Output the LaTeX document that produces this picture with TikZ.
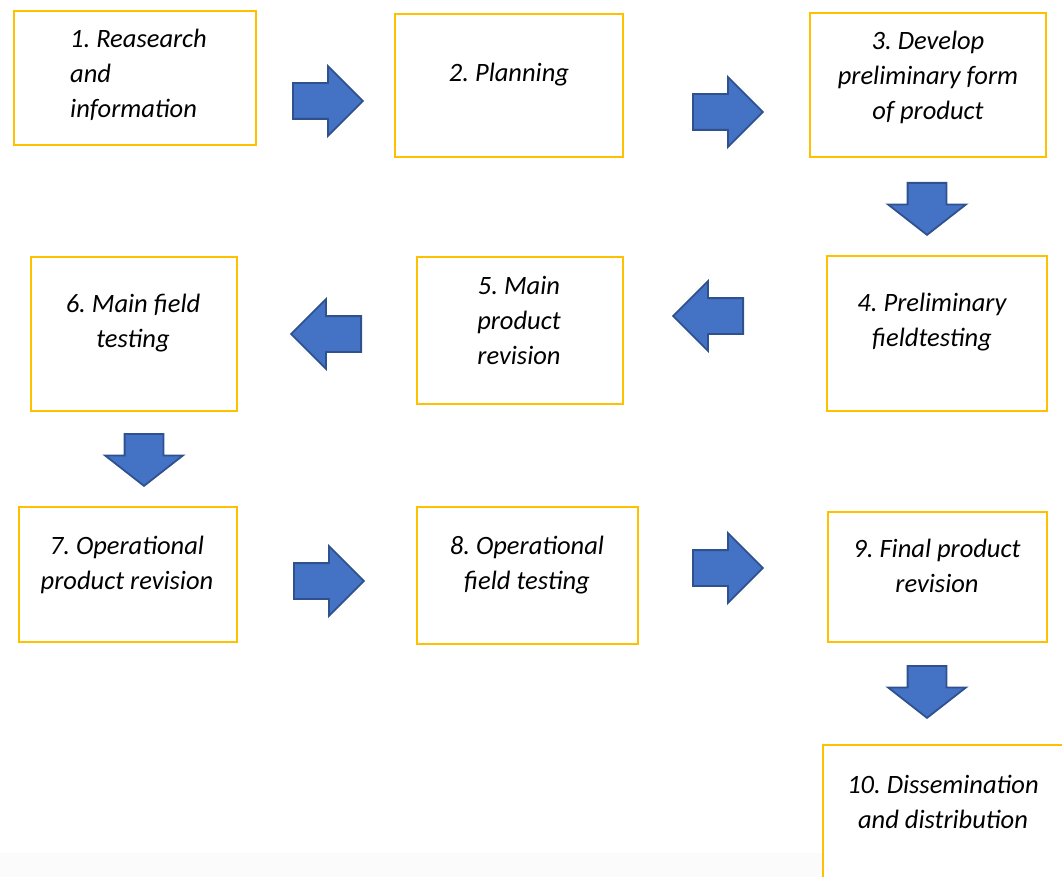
\documentclass[tikz,border=0pt]{standalone}
\usepackage{fontspec}
\setmainfont{Carlito}
\usetikzlibrary{shapes.arrows}
\definecolor{boxyellow}{HTML}{FFC000}
\definecolor{arrowfill}{HTML}{4472C4}
\definecolor{arrowline}{HTML}{2F528F}
\frenchspacing

\begin{document}
\begin{tikzpicture}[x=1pt,y=-1pt,node font={\fontsize{26.5}{35}\selectfont\itshape},
	stepbox/.style={draw=boxyellow,line width=2.5pt,inner sep=0pt},
	steptext/.style={inner sep=0pt,align=center},
	blockarrow/.style={single arrow,draw=arrowline,fill=arrowfill,line width=1.8pt,inner xsep=0pt,anchor=tail,single arrow head indent=0pt},
	sidearrow/.style={blockarrow,inner ysep=17pt,minimum height=70,minimum width=68,single arrow head extend=17,single arrow tip angle=90},
	downarrow/.style={blockarrow,rotate=-90,inner ysep=18.5pt,minimum height=52,minimum width=76,single arrow head extend=19.5,single arrow tip angle=104}]
	\useasboundingbox (0,0) rectangle (1062,877);
	\clip (0,0) rectangle (1062,877);
	\fill[black!1.5] (0,853) rectangle (823,877);
	
	% boxes
	\node[stepbox,minimum width=242,minimum height=134] (B1)  at (135,78)    {};
	\node[stepbox,minimum width=228,minimum height=143] (B2)  at (509,85.5)  {};
	\node[stepbox,minimum width=236,minimum height=144] (B3)  at (928,85)    {};
	\node[stepbox,minimum width=220,minimum height=155] (B4)  at (937,333.5) {};
	\node[stepbox,minimum width=206,minimum height=147] (B5)  at (520,330.5) {};
	\node[stepbox,minimum width=206,minimum height=154] (B6)  at (134,334)   {};
	\node[stepbox,minimum width=218,minimum height=135] (B7)  at (128,574.5) {};
	\node[stepbox,minimum width=221,minimum height=137] (B8)  at (527.5,575.5) {};
	\node[stepbox,minimum width=219,minimum height=130] (B9)  at (937.5,577) {};
	\node[stepbox,minimum width=241,minimum height=145] (B10) at (943.5,817.5) {};
	
	% texts
	\node[steptext,align=left,anchor=west] (T1) at (70,75) {1. Reasearch\\and\\information};
	\node[steptext] (T2)  at (509,75)  {2. Planning};
	\node[steptext] (T3)  at (928,77)  {3. Develop\\preliminary form\\of product};
	\node[steptext] (T4)  at (932,322) {4. Preliminary\\fieldtesting};
	\node[steptext] (T5)  at (519,320) {5. Main\\product\\revision};
	\node[steptext] (T6)  at (133,323) {6. Main field\\testing};
	\node[steptext] (T7)  at (127,565) {7. Operational\\product revision};
	\node[steptext] (T8)  at (527,565) {8. Operational\\field testing};
	\node[steptext] (T9)  at (937,566) {9. Final product\\revision};
	\node[steptext] (T10) at (943,802) {10. Dissemination\\and distribution};
	
	% arrows
	\node[sidearrow] (A12) at (292,101) {};
	\node[sidearrow] (A23) at (692,112) {};
	\node[downarrow] (A34) at (927,182) {};
	\node[sidearrow,rotate=180] (A45) at (744,316) {};
	\node[sidearrow,rotate=180] (A56) at (362,334) {};
	\node[downarrow] (A67) at (144,433) {};
	\node[sidearrow] (A78) at (293,581) {};
	\node[sidearrow] (A89) at (692,568) {};
	\node[downarrow] (A910) at (927,665) {};
\end{tikzpicture}
\end{document}
